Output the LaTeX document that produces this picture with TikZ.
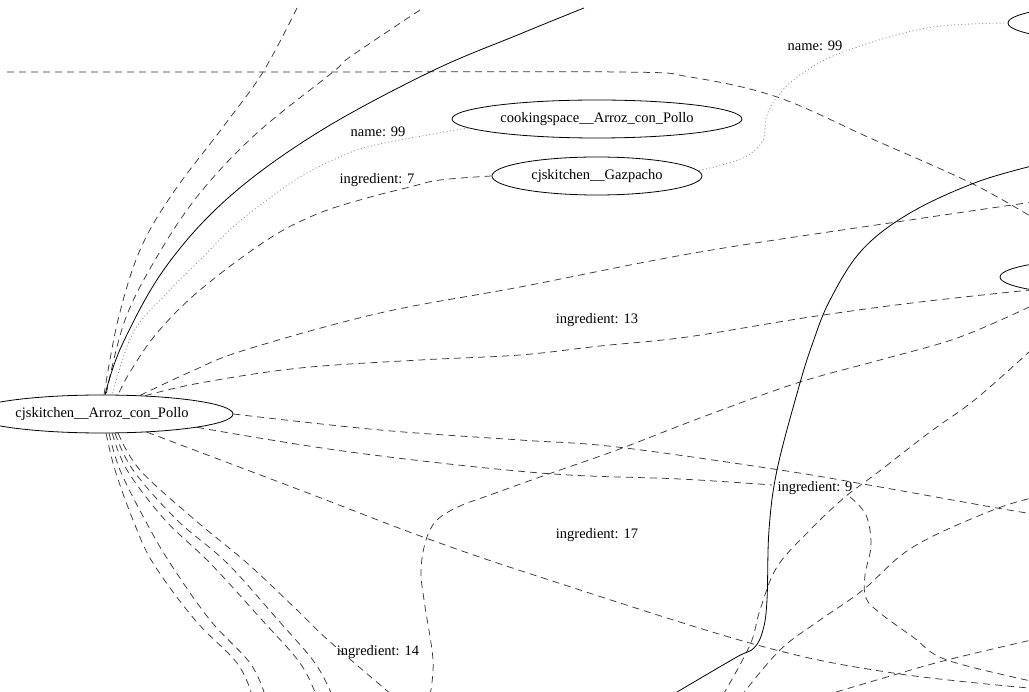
\documentclass[tikz,border=0pt]{standalone}
\usepackage{fontspec}
\setmainfont{Liberation Serif}
\usetikzlibrary{shapes.geometric}
\newcommand\mylblfont{\fontsize{14.5}{17}\selectfont}
\begin{document}
\begin{tikzpicture}[x=1pt,y=-1pt,
  ell/.style={draw, ellipse, line width=0.8pt, inner sep=0pt, font=\mylblfont},
  de/.style={draw=black!78, line width=0.75pt, dash pattern=on 7pt off 5pt},
  so/.style={draw=black, line width=0.8pt},
  dt/.style={draw=black!40, line width=0.9pt, dash pattern=on 1pt off 2.5pt},
  lab/.style={inner sep=0pt, font=\mylblfont},
  sm/.style={smooth, tension=0.6}]
\useasboundingbox (0,0) rectangle (1029,692);
\fill[white] (0,0) rectangle (1029,692);
\clip (0,0) rectangle (1029,692);

% nodes
\node[ell, minimum width=262pt, minimum height=38pt] (n1) at (102,414) {cjskitchen\_\_Arroz\_con\_Pollo};
\node[ell, minimum width=290pt, minimum height=38pt] (n2) at (597,119) {cookingspace\_\_Arroz\_con\_Pollo};
\node[ell, minimum width=210pt, minimum height=38pt] (n3) at (597,176) {cjskitchen\_\_Gazpacho};
\node[ell, minimum width=244pt, minimum height=38pt] (n4) at (1130,23) {};
\node[ell, minimum width=244pt, minimum height=38pt] (n5) at (1122,277) {};

% labels
\node[lab] (l1) at (378,132) {name: 99};
\node[lab] (l2) at (377,180) {ingredient: 7};
\node[lab] (l3) at (815,46) {name: 99};
\node[lab] (l4) at (597,320) {ingredient: 13};
\node[lab] (l5) at (815,488) {ingredient: 9};
\node[lab] (l6) at (597,535) {ingredient: 17};
\node[lab] (l7) at (378,652) {ingredient: 14};

% free ends
\coordinate (h0) at (7,72);
\coordinate (h1) at (1040,222);
\coordinate (t2) at (297,8);
\coordinate (t3) at (420,10);
\coordinate (t4) at (584,8);
\coordinate (r8) at (1040,201);
\coordinate (r13) at (1040,289);
\coordinate (rb) at (1040,515);
\coordinate (c9a) at (772,485);
\coordinate (c9b) at (850,497);
\coordinate (c9c) at (1040,683);
\coordinate (rd) at (1040,689);
\coordinate (be) at (430,695);
\coordinate (re) at (1040,302);
\coordinate (rf) at (1040,342);
\coordinate (bf) at (723,695);
\coordinate (rg) at (1040,496);
\coordinate (bg) at (742,695);
\coordinate (rh) at (1040,638);
\coordinate (bh) at (826,695);
\coordinate (ri) at (1040,164);
\coordinate (bi) at (672,695);
\coordinate (f1) at (252,695);
\coordinate (f2) at (265,695);
\coordinate (f3) at (316,695);
\coordinate (f4) at (332,695);
\coordinate (f5) at (392,695);

% edges
\draw[de] plot[sm] coordinates {(h0) (300,72) (620,72) (690,77) (777,97) (870,138) (973,184) (h1)};
\draw[de] plot[sm] coordinates {(t2) (263,72) (223,127) (173,193) (140,250) (118,320) (n1.84)};
\draw[de] plot[sm] coordinates {(t3) (350,57) (333,72) (257,133) (200,193) (158,255) (125,320) (n1.78)};
\draw[so] plot[sm] coordinates {(t4) (520,34) (430,72) (317,133) (228,198) (165,268) (122,345) (n1.81)};
\draw[dt] plot[sm] coordinates {(n2.184) (427,135) (367,147) (333,160) (300,177) (267,200) (233,227) (200,260) (167,293) (133,333) (n1.62)};
\draw[de] plot[sm] coordinates {(n3.west) (440,180) (410,187) (367,198) (317,214) (267,240) (200,290) (157,333) (130,372) (n1.50)};
\draw[dt] plot[sm] coordinates {(n4.west) (927,28) (843,52) (800,75) (777,97) (766,118) (763,140) (743,158) (n3.3)};
\draw[de] plot[sm] coordinates {(n1.26) (190,372) (245,350) (380,313) (520,287) (700,252) (910,220) (r8)};
\draw[de] plot[sm] coordinates {(n1.23) (200,383) (300,368) (420,360) (520,355) (600,346) (687,337) (810,317) (920,302) (r13)};
\draw[de] plot[sm] coordinates {(n1.east) (380,430) (520,440) (617,447) (780,470) (880,487) (997,508) (rb)};
\draw[de] plot[sm] coordinates {(n1.-8) (350,452) (540,473) (680,479) (c9a)};
\draw[de] plot[sm] coordinates {(c9b) (866,515) (871,545) (865,575) (866,598) (880,613) (913,637) (947,660) (c9c)};
\draw[de] plot[sm] coordinates {(n1.-22) (300,490) (423,537) (540,577) (757,645) (893,673) (rd)};
\draw[de] plot[sm] coordinates {(be) (433,660) (424,600) (421,570) (426,540) (437,520) (460,506) (490,495) (540,477) (617,450) (700,418) (797,383) (880,360) (960,337) (re)};
\draw[de] plot[sm] coordinates {(rf) (977,398) (930,432) (877,473) (845,497) (810,530) (777,567) (760,610) (750,645) (bf)};
\draw[de] plot[sm] coordinates {(rg) (993,510) (913,547) (863,590) (820,620) (780,650) (bg)};
\draw[de] plot[sm] coordinates {(rh) (947,660) (887,677) (bh)};
\draw[so] plot[sm] coordinates {(ri) (977,182) (910,213) (862,250) (830,300) (812,345) (798,390) (777,470) (769,530) (767,600) (763,630) (754,648) (735,658) (bi)};
\draw[de] plot[sm] coordinates {(n1.-78) (115,470) (133,520) (153,563) (195,620) (237,663) (f1)};
\draw[de] plot[sm] coordinates {(n1.-70) (120,470) (145,520) (170,563) (210,620) (250,663) (f2)};
\draw[de] plot[sm] coordinates {(n1.-62) (127,470) (165,520) (210,563) (262,620) (300,663) (f3)};
\draw[de] plot[sm] coordinates {(n1.-56) (133,470) (177,520) (227,563) (278,620) (315,663) (f4)};
\draw[de] plot[sm] coordinates {(n1.-50) (140,470) (195,520) (247,563) (297,610) (328,640) (f5)};
\end{tikzpicture}
\end{document}
